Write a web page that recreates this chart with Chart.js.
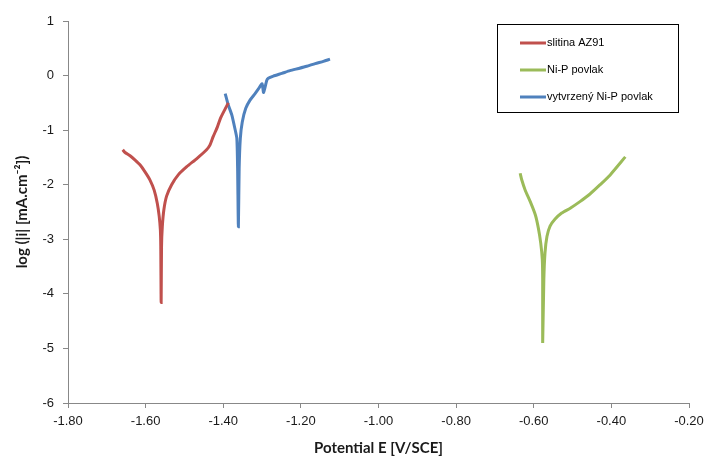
<!DOCTYPE html>
<html>
<head>
<meta charset="utf-8">
<script src="https://cdn.jsdelivr.net/npm/chart.js@4.4.1/dist/chart.umd.min.js"></script>
<style>
  html, body { margin: 0; padding: 0; background: #fff; }
  #wrap { width: 704px; height: 459px; }
</style>
</head>
<body>
<div id="wrap"><canvas id="polar"></canvas></div>
<script>
// slitina AZ91
var alloyE = [-1.659, -1.653, -1.640, -1.627, -1.614, -1.602, -1.589, -1.578, -1.570, -1.565, -1.562, -1.561, -1.560,
              -1.559, -1.557, -1.553, -1.546, -1.533, -1.516, -1.494, -1.468, -1.443, -1.434, -1.426, -1.415, -1.407, -1.395, -1.387];
var alloyLogI = [-1.36, -1.41, -1.47, -1.55, -1.64, -1.76, -1.91, -2.10, -2.34, -2.58, -2.83, -3.13, -4.16,
                 -3.13, -2.77, -2.46, -2.21, -2.00, -1.82, -1.67, -1.52, -1.36, -1.27, -1.12, -0.94, -0.78, -0.61, -0.50];

// Ni-P povlak
var coatE = [-0.635, -0.631, -0.622, -0.609, -0.596, -0.588, -0.582, -0.578, -0.577, -0.577,
             -0.574, -0.571, -0.566, -0.558, -0.545, -0.528, -0.506, -0.481, -0.455, -0.429, -0.403, -0.364];
var coatLogI = [-1.79, -1.91, -2.10, -2.31, -2.55, -2.80, -3.07, -3.37, -3.74, -4.90,
                -3.74, -3.25, -2.95, -2.76, -2.63, -2.52, -2.43, -2.31, -2.17, -2.00, -1.82, -1.49];

// vytvrzený Ni-P povlak
var hardE = [-1.395, -1.387, -1.378, -1.370, -1.365, -1.363, -1.361, -1.359, -1.356, -1.351, -1.342, -1.331, -1.318,
             -1.309, -1.300, -1.296, -1.288, -1.284, -1.271, -1.249, -1.228, -1.206, -1.185, -1.163, -1.142, -1.125];
var hardLogI = [-0.33, -0.54, -0.72, -0.97, -1.15, -1.70, -2.77, -1.70, -1.15, -0.85, -0.60, -0.45, -0.33,
                -0.24, -0.15, -0.31, -0.09, -0.05, -0.01, 0.04, 0.09, 0.13, 0.17, 0.22, 0.26, 0.30];

var seriesNames = ['slitina AZ91', 'Ni-P povlak', 'vytvrzený Ni-P povlak'];
var seriesColors = ['#C0504D', '#9BBB59', '#4F81BD'];

function pairs(xs, ys) {
    return xs.map(function (x, i) { return { x: x, y: ys[i] }; });
}

// legend box drawn inside the plot, like the Excel original
var boxLegend = {
    id: 'boxLegend',
    afterDraw: function (chart) {
        var ctx = chart.ctx;
        var left = 497, top = 24, w = 181, h = 88;
        ctx.save();
        ctx.fillStyle = '#fff';
        ctx.fillRect(left, top, w, h);
        ctx.strokeStyle = '#000';
        ctx.lineWidth = 1;
        ctx.strokeRect(left + 0.5, top + 0.5, w, h);
        ctx.font = '11px "Liberation Sans", Arial, sans-serif';
        ctx.textBaseline = 'middle';
        chart.data.datasets.forEach(function (ds, i) {
            var y = top + 19 + i * 27;
            ctx.strokeStyle = ds.borderColor;
            ctx.lineWidth = 3;
            ctx.beginPath();
            ctx.moveTo(left + 23, y);
            ctx.lineTo(left + 49, y);
            ctx.stroke();
            ctx.fillStyle = '#000';
            ctx.fillText(ds.label, left + 50, y);
        });
        ctx.restore();
    }
};

var ctx = document.getElementById('polar').getContext('2d');
var chart = new Chart(ctx, {
    type: 'scatter',
    data: {
        datasets: [
            { label: seriesNames[0], data: pairs(alloyE, alloyLogI), borderColor: seriesColors[0] },
            { label: seriesNames[1], data: pairs(coatE, coatLogI), borderColor: seriesColors[1] },
            { label: seriesNames[2], data: pairs(hardE, hardLogI), borderColor: seriesColors[2] }
        ].map(function (ds) {
            ds.showLine = true;
            ds.borderWidth = 3;
            ds.pointRadius = 0;
            ds.tension = 0.2;
            ds.backgroundColor = ds.borderColor;
            return ds;
        })
    },
    options: {
        responsive: true,
        maintainAspectRatio: false,
        animation: false,
        layout: { padding: { left: 0, right: 15, top: 21, bottom: 0 } },
        plugins: {
            legend: { display: false },
            tooltip: { enabled: false }
        },
        scales: {
            x: {
                type: 'linear',
                min: -1.8,
                max: -0.2,
                ticks: {
                    stepSize: 0.2,
                    color: '#1a1a1a',
                    font: { family: '"Liberation Sans", Arial, sans-serif', size: 13 },
                    padding: 6,
                    maxRotation: 0,
                    callback: function (v) { return v.toFixed(2); }
                },
                grid: { drawOnChartArea: false, tickLength: 5, color: '#888' },
                border: { color: '#888' },
                title: {
                    display: true,
                    text: 'Potential E [V/SCE]',
                    color: '#1a1a1a',
                    font: { family: 'Lato, "Open Sans", sans-serif', size: 15, weight: 'bold' },
                    padding: { top: 0, bottom: 2 }
                },
                afterFit: function (s) {
                    s.height = 56;
                    s.paddingLeft = 0;
                    s.paddingRight = 0;
                }
            },
            y: {
                type: 'linear',
                min: -6,
                max: 1,
                ticks: {
                    stepSize: 1,
                    color: '#1a1a1a',
                    font: { family: '"Liberation Sans", Arial, sans-serif', size: 13 },
                    padding: 9
                },
                grid: { drawOnChartArea: false, tickLength: 5, color: '#888' },
                border: { color: '#888' },
                title: {
                    display: true,
                    text: 'log (|i| [mA.cm⁻²])',
                    color: '#1a1a1a',
                    font: { family: 'Lato, "Open Sans", sans-serif', size: 15, weight: 'bold' },
                    padding: { top: 13, bottom: 0 }
                },
                afterFit: function (s) { s.width = 68; }
            }
        }
    },
    plugins: [boxLegend]
});
</script>
</body>
</html>
